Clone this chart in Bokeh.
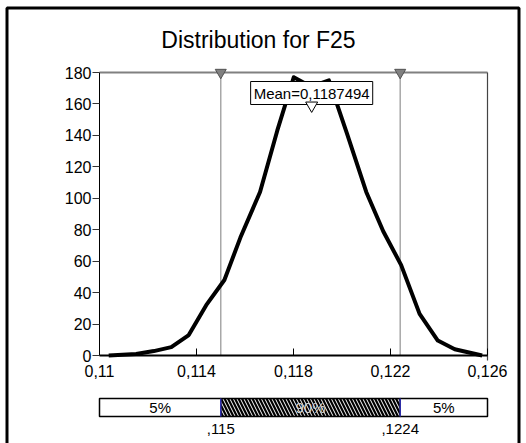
from bokeh.plotting import figure
from bokeh.models import LinearAxis, FixedTicker, Label
from bokeh.core.properties import value
from bokeh.embed import file_html
from bokeh.resources import INLINE

# ---- data ----
title_text = "Distribution for F25"
curve_x = [0.11038, 0.11151, 0.11224, 0.11296, 0.11368, 0.11440, 0.11515, 0.11581,
           0.11662, 0.11733, 0.11801, 0.11873, 0.11946, 0.12021, 0.12100, 0.12170,
           0.12244, 0.12320, 0.12395, 0.12465, 0.12578]
curve_y = [0, 1.0, 2.8, 5.3, 13, 32, 48, 75,
           104, 143, 177, 171, 175, 141, 104, 79,
           57.5, 26.5, 9.5, 4, 0]
x_ticks = [0.11, 0.114, 0.118, 0.122, 0.126]
x_tick_labels = ["0,11", "0,114", "0,118", "0,122", "0,126"]
y_ticks = [0, 20, 40, 60, 80, 100, 120, 140, 160, 180]
x_min, x_max = 0.11, 0.126
y_min, y_max = 0, 180
p5, p95 = 0.115, 0.1224
p_labels = [",115", ",1224"]
mean_value = 0.1187494
mean_label = "Mean=0,1187494"
band_labels = ["5%", "90%", "5%"]

# ---- layout (pixels) ----
W, H = 526, 443
L, R, T, B = 99, 487, 72, 355
kx = (x_max - x_min) / (R - L)
ky = (y_max - y_min) / (B - T)


def px_x(px):
    return x_min + (px - L) * kx


def px_y(py):
    return y_min + (B - py) * ky


FONT = "Liberation Sans"

p = figure(width=W, height=H, x_range=(px_x(0), px_x(W)), y_range=(px_y(H), px_y(0)),
           output_backend="svg", toolbar_location=None, title=None,
           x_axis_location=None, y_axis_location=None, min_border=0)
p.outline_line_color = None
p.background_fill_color = "white"
p.border_fill_color = "white"
for g in p.grid:
    g.visible = False

# outer frame
p.quad(left=px_x(6.5), right=px_x(518.5), top=px_y(7.5), bottom=px_y(480),
       fill_color=None, line_color="black", line_width=3)

# axes
yax = LinearAxis(fixed_location=x_min, ticker=FixedTicker(ticks=y_ticks), bounds=(y_min, y_max))
yax.major_tick_in = 0
yax.major_tick_out = 7
yax.minor_tick_in = 0
yax.minor_tick_out = 0
yax.axis_line_color = "black"
yax.major_tick_line_color = "#333333"
yax.major_label_standoff = 1
yax.major_label_text_font = FONT
yax.major_label_text_font_size = "16px"
yax.major_label_text_color = "black"
p.add_layout(yax, "left")

xax = LinearAxis(fixed_location=y_min, ticker=FixedTicker(ticks=x_ticks), bounds=(x_min, x_max),
                 major_label_overrides=dict(zip(x_ticks, x_tick_labels)))
xax.major_tick_in = 7
xax.major_tick_out = 0
xax.minor_tick_in = 0
xax.minor_tick_out = 0
xax.axis_line_color = "black"
xax.axis_line_width = 2
xax.major_tick_line_color = "black"
xax.major_label_standoff = 9
xax.major_label_text_font = FONT
xax.major_label_text_font_size = "16px"
xax.major_label_text_color = "black"
p.add_layout(xax, "below")

# plot box top and right
p.segment(x0=[x_min], y0=[y_max], x1=[x_max], y1=[y_max], line_color="#808080", line_width=2)
p.segment(x0=[x_max], y0=[px_y(360)], x1=[x_max], y1=[y_max], line_color="#444444", line_width=1.2)

# percentile lines
p.segment(x0=[p5, p95], y0=[y_min, y_min], x1=[p5, p95], y1=[y_max, y_max],
          line_color="#a8a8a8", line_width=1.5)

# density curve
p.line(curve_x, curve_y, line_color="black", line_width=4, line_join="round")

# percentile markers
p.scatter([p5, p95], [y_max, y_max], marker="inverted_triangle", size=11,
          fill_color="#808080", line_color="#505050")

# mean label + marker
p.add_layout(Label(x=mean_value, y=px_y(92.5), text=mean_label, text_align="center",
                   text_baseline="middle", text_font=FONT, text_font_size="15px",
                   text_color="black", background_fill_color="white",
                   border_line_color="black", border_line_width=1, padding=3))
p.scatter([mean_value], [px_y(105)], marker="inverted_triangle", size=12,
          fill_color="white", line_color="black", level="overlay")

# title
p.add_layout(Label(x=px_x(258), y=px_y(39), text=title_text, text_align="center",
                   text_baseline="middle", text_font=FONT, text_font_size="23px",
                   text_color="black"))

# bottom percentile bar
bar_top, bar_bot = px_y(398), px_y(416)
lefts = [x_min, p5, p95]
rights = [p5, p95, x_max]
p.quad(left=[lefts[0], lefts[2]], right=[rights[0], rights[2]], top=bar_top, bottom=bar_bot,
       fill_color="white", line_color="black", line_width=1.5)
p.quad(left=[lefts[1]], right=[rights[1]], top=bar_top, bottom=bar_bot,
       fill_color="black", line_color="black", line_width=1.5,
       hatch_pattern="\\", hatch_color="white", hatch_scale=7, hatch_weight=1)
p.segment(x0=[p5, p95], y0=[bar_bot, bar_bot], x1=[p5, p95], y1=[bar_top, bar_top],
          line_color="#3030b0", line_width=1.5)
centers = [(a + b) / 2 for a, b in zip(lefts, rights)]
p.text(x=centers, y=[(bar_top + bar_bot) / 2] * 3, text=band_labels,
       text_align="center", text_baseline="middle", text_font=value(FONT),
       text_font_size="15px", text_color=["black", "#d0d0d0", "black"])
p.text(x=[p5, p95], y=[px_y(428)] * 2, text=p_labels, text_align="center",
       text_baseline="middle", text_font=value(FONT), text_font_size="15px",
       text_color="black")

open("out.html", "w").write(file_html(p, INLINE))
